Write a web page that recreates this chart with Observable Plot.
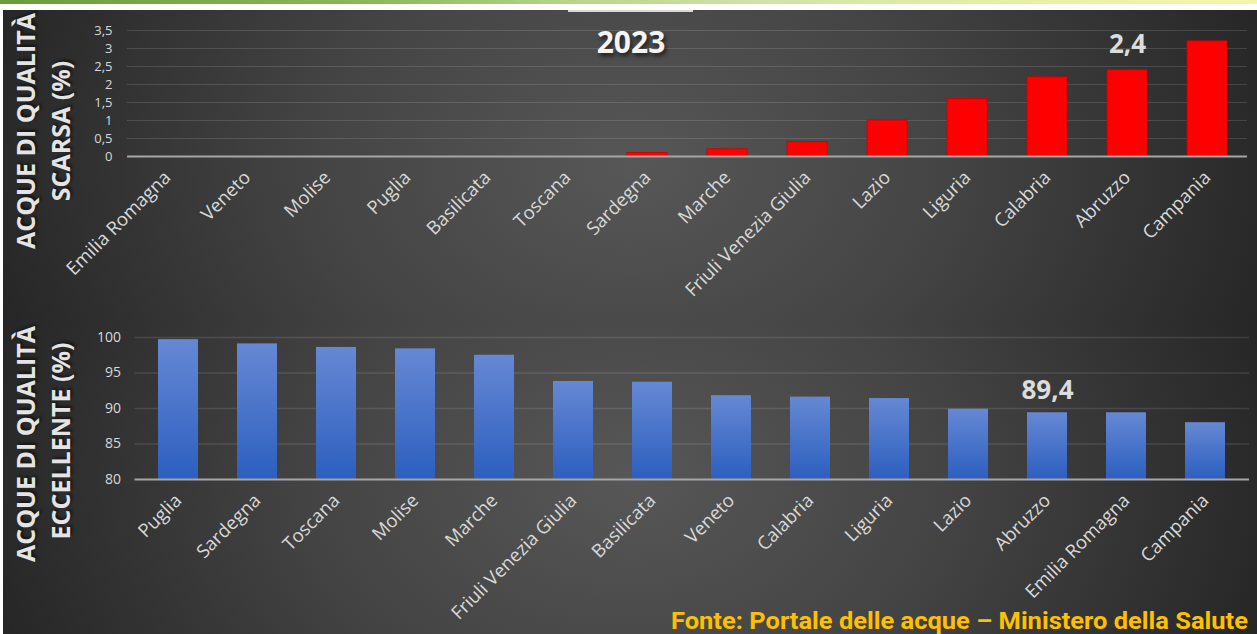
<!DOCTYPE html>
<html>
<head>
<meta charset="utf-8">
<script src="https://cdn.jsdelivr.net/npm/d3@7"></script>
<script src="https://cdn.jsdelivr.net/npm/@observablehq/plot@0.6"></script>
<style>
  html, body { margin: 0; padding: 0; background: #ffffff; }
  body { width: 1257px; height: 634px; overflow: hidden; position: relative; font-family: "Open Sans", sans-serif; }
  .topbar { position: absolute; left: 0; top: 0; width: 1257px; height: 4px;
    background: linear-gradient(90deg, #6a9c3c 0%, #8cb85a 30%, #b5d48a 45%, #cfe3a6 60%, #e6f0a6 80%, #f3f7a8 100%); }
  .panel { position: absolute; left: 3px; width: 1254px; height: 312px; overflow: hidden;
    background: radial-gradient(ellipse 56% 160% at 50% 50%, #575757 0%, #444 45%, #232323 100%); }
  #p1 { top: 10px; }
  #p2 { top: 322px; }
  .chart { position: absolute; left: 0; top: 0; }
  .ytitle { position: absolute; white-space: nowrap; font-weight: 700; font-size: 25px; line-height: 25px;
    color: #e4e4e4; transform: translate(-50%, -50%) rotate(-90deg);
    text-shadow: 2px 2px 3px rgba(0,0,0,0.55); }
  .year { position: absolute; left: 631px; top: 57px; transform: translate(-50%, -100%);
    font-weight: 700; font-size: 30px; line-height: 30px; color: #f4f4f4;
    text-shadow: 2px 3px 4px rgba(0,0,0,0.6); }
  .yearline { position: absolute; left: 568px; top: 10px; width: 125px; height: 2px; background: #d8d8d8; }
  #source { position: absolute; left: 0; top: 0; }
</style>
</head>
<body>
<div class="topbar"></div>
<div class="panel" id="p1"></div>
<div class="panel" id="p2"></div>
<div class="yearline"></div>
<div class="year">2023</div>
<div class="ytitle" style="left:25px; top:131px;">ACQUE DI QUALITÀ</div>
<div class="ytitle" style="left:60px; top:131px;">SCARSA (%)</div>
<div class="ytitle" style="left:25px; top:444px;">ACQUE DI QUALITÀ</div>
<div class="ytitle" style="left:60px; top:441px;">ECCELLENTE (%)</div>
<svg id="source" width="1257" height="634">
  <text x="1248" y="629" text-anchor="end" font-family="Roboto, 'Open Sans', sans-serif" font-weight="700"
        font-size="23.5" fill="#ffc000" textLength="577" lengthAdjust="spacingAndGlyphs">Fonte: Portale delle acque – Ministero della Salute</text>
</svg>
<script>
// ---- Data ----
const scarsaRegions = ["Emilia Romagna","Veneto","Molise","Puglia","Basilicata","Toscana","Sardegna","Marche","Friuli Venezia Giulia","Lazio","Liguria","Calabria","Abruzzo","Campania"];
const scarsaValues  = [0, 0, 0, 0, 0, 0, 0.1, 0.2, 0.4, 1.0, 1.6, 2.2, 2.4, 3.2];
const scarsaTicks   = [0, 0.5, 1, 1.5, 2, 2.5, 3, 3.5];

const eccRegions = ["Puglia","Sardegna","Toscana","Molise","Marche","Friuli Venezia Giulia","Basilicata","Veneto","Calabria","Liguria","Lazio","Abruzzo","Emilia Romagna","Campania"];
const eccValues  = [99.7, 99.1, 98.6, 98.4, 97.5, 93.8, 93.7, 91.8, 91.6, 91.4, 89.9, 89.4, 89.4, 88.0];
const eccTicks   = [80, 85, 90, 95, 100];

const highlightRegion = ["Abruzzo"];

// ---- Helpers ----
const fmtIt = d => String(d).replace(".", ",");
const scarsaData = scarsaRegions.map((r, i) => ({region: r, value: scarsaValues[i]}));
const eccData = eccRegions.map((r, i) => ({region: r, value: eccValues[i]}));
const scarsaHi = scarsaData.filter(d => highlightRegion.includes(d.region)).map(d => ({...d, label: fmtIt(d.value)}));
const eccHi = eccData.filter(d => highlightRegion.includes(d.region)).map(d => ({...d, label: fmtIt(d.value)}));

const common = {
  width: 1254, height: 312,
  style: {background: "transparent", color: "#d9d9d9", fontFamily: "'Open Sans', sans-serif", overflow: "visible"}
};

const chartTop = Plot.plot({
  ...common,
  marginLeft: 124, marginRight: 10, marginTop: 20, marginBottom: 166,
  x: {domain: scarsaRegions, paddingInner: 0.5, paddingOuter: 0.25},
  y: {domain: [0, 3.5]},
  marks: [
    Plot.gridY(scarsaTicks, {stroke: "#ffffff", strokeOpacity: 0.13, strokeWidth: 1}),
    Plot.barY(scarsaData, {x: "region", y: "value", fill: "#ff0000", stroke: "#c80000", strokeWidth: 0.8}),
    Plot.ruleY([0], {stroke: "#a6a6a6", strokeWidth: 2}),
    Plot.axisY({ticks: scarsaTicks, tickFormat: fmtIt, tickSize: 0, tickPadding: 15, fontSize: 13, label: null}),
    Plot.axisX({tickSize: 0, tickRotate: -45, tickPadding: 18, fontSize: 18.5, label: null}),
    Plot.text(scarsaHi, {x: "region", y: "value", text: "label", dy: -17, lineAnchor: "bottom",
      fontSize: 26, fontWeight: "bold", fill: "#dcdcdc"})
  ]
});
chartTop.classList.add("chart");
document.getElementById("p1").appendChild(chartTop);

const chartBottom = Plot.plot({
  ...common,
  marginLeft: 131.5, marginRight: 8, marginTop: 15, marginBottom: 155,
  x: {domain: eccRegions, paddingInner: 0.49, paddingOuter: 0.245},
  y: {domain: [80, 100]},
  marks: [
    Plot.gridY(eccTicks.filter(t => t > 80), {stroke: "#ffffff", strokeOpacity: 0.11, strokeWidth: 1.5}),
    Plot.barY(eccData, {x: "region", y1: 80, y2: "value", fill: "url(#blueGrad)"}),
    Plot.ruleY([80], {stroke: "#a6a6a6", strokeWidth: 2}),
    Plot.axisY({ticks: eccTicks, tickSize: 0, tickPadding: 14, fontSize: 14, label: null}),
    Plot.axisX({tickSize: 0, tickRotate: -45, tickPadding: 18, fontSize: 18.5, label: null}),
    Plot.text(eccHi, {x: "region", y: "value", text: "label", dy: -14, lineAnchor: "bottom",
      fontSize: 26, fontWeight: "bold", fill: "#dcdcdc"})
  ]
});
chartBottom.classList.add("chart");
const defs = d3.select(chartBottom).insert("defs", ":first-child");
const grad = defs.append("linearGradient").attr("id", "blueGrad").attr("x1", 0).attr("y1", 0).attr("x2", 0).attr("y2", 1);
grad.append("stop").attr("offset", "0%").attr("stop-color", "#6688d4");
grad.append("stop").attr("offset", "100%").attr("stop-color", "#2c5fbf");
document.getElementById("p2").appendChild(chartBottom);
</script>
</body>
</html>
